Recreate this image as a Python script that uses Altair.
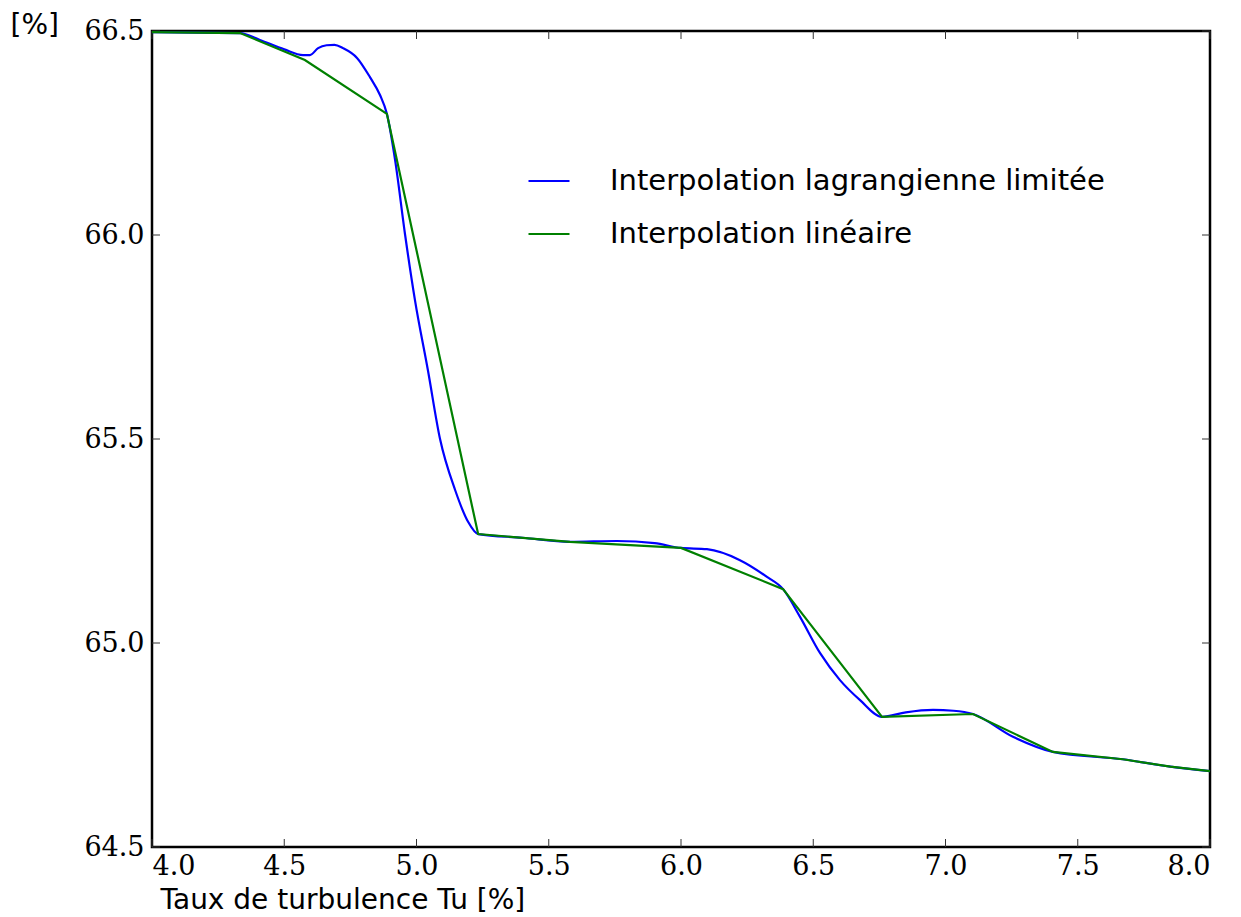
import altair as alt
import pandas as pd

# Series values
x_lag = [4.0, 4.333, 4.408, 4.5, 4.571, 4.597, 4.628, 4.66, 4.69, 4.722, 4.775, 4.824,
         4.862, 4.888, 4.919, 4.957, 4.994, 5.043, 5.089, 5.146, 5.195, 5.233, 5.4,
         5.58, 5.758, 5.9, 6.0, 6.098, 6.223, 6.325, 6.386, 6.45, 6.526, 6.601, 6.677,
         6.76, 6.85, 6.953, 7.03, 7.104, 7.255, 7.406, 7.67, 7.85, 8.0]
y_lag = [66.497, 66.495, 66.478, 66.455, 66.441, 66.441, 66.458, 66.465, 66.466, 66.458,
         66.434, 66.387, 66.343, 66.297, 66.184, 66.0, 65.841, 65.669, 65.5, 65.375,
         65.297, 65.267, 65.258, 65.248, 65.25, 65.245, 65.233, 65.230, 65.203, 65.162,
         65.132, 65.064, 64.975, 64.909, 64.86, 64.819, 64.83, 64.836, 64.834, 64.826,
         64.77, 64.733, 64.715, 64.697, 64.686]

x_lin = [4.0, 4.333, 4.578, 4.888, 5.233, 5.58, 6.0, 6.386, 6.76, 7.104, 7.406, 7.67, 7.85, 8.0]
y_lin = [66.497, 66.495, 66.429, 66.297, 65.267, 65.248, 65.233, 65.132, 64.819, 64.826,
         64.733, 64.715, 64.697, 64.686]

series_names = ["Interpolation lagrangienne limitée", "Interpolation linéaire"]
series_colors = ["#0000ff", "#008000"]

x_ticks = [4.0, 4.5, 5.0, 5.5, 6.0, 6.5, 7.0, 7.5, 8.0]
y_ticks = [64.5, 65.0, 65.5, 66.0, 66.5]

x_title = "Taux de turbulence Tu [%]"
y_title = "[%]"

W, H = 1058, 816

df_lag = pd.DataFrame({"x": x_lag, "y": y_lag, "s": series_names[0]})
df_lin = pd.DataFrame({"x": x_lin, "y": y_lin, "s": series_names[1]})
xt = pd.DataFrame({"v": x_ticks})
yt = pd.DataFrame({"v": y_ticks})

xscale = alt.Scale(domain=[4.0, 8.0], nice=False, zero=False)
yscale = alt.Scale(domain=[64.5, 66.5], nice=False, zero=False)

x_enc = alt.X("x:Q", scale=xscale,
              axis=alt.Axis(values=x_ticks, format=".1f", title=x_title,
                            titleX=8, titleY=53, titleAlign="left", titleBaseline="middle",
                            titleAnchor="start"))
y_enc = alt.Y("y:Q", scale=yscale,
              axis=alt.Axis(values=y_ticks, format=".1f", title=y_title, titleAngle=0,
                            titleX=-142, titleY=2, titleAlign="left",
                            titleBaseline="alphabetic", titleAnchor="start"))
c_enc = alt.Color("s:N", scale=alt.Scale(domain=series_names, range=series_colors),
                  legend=alt.Legend(title=None, orient="none", legendX=375, legendY=128,
                                    symbolType="stroke", symbolSize=1681,
                                    symbolStrokeWidth=2.2, labelOffset=39,
                                    labelFont="DejaVu Sans", labelFontSize=29,
                                    labelColor="black", rowPadding=16, padding=0,
                                    labelLimit=1000))

blue = alt.Chart(df_lag).mark_line(strokeWidth=2.2, interpolate="monotone").encode(
    x=x_enc, y=y_enc, color=c_enc)
green = alt.Chart(df_lin).mark_line(strokeWidth=2.2).encode(
    x=x_enc, y=y_enc, color=c_enc)

tick_style = dict(color="#333333", strokeWidth=1)
tx_bot = alt.Chart(xt).mark_rule(**tick_style).encode(
    x=alt.X("v:Q", scale=xscale), y=alt.value(H), y2=alt.value(H - 8))
tx_top = alt.Chart(xt).mark_rule(**tick_style).encode(
    x=alt.X("v:Q", scale=xscale), y=alt.value(0), y2=alt.value(8))
ty_left = alt.Chart(yt).mark_rule(**tick_style).encode(
    y=alt.Y("v:Q", scale=yscale), x=alt.value(0), x2=alt.value(8))
ty_right = alt.Chart(yt).mark_rule(**tick_style).encode(
    y=alt.Y("v:Q", scale=yscale), x=alt.value(W), x2=alt.value(W - 8))

chart = alt.layer(tx_bot, tx_top, ty_left, ty_right, blue, green).properties(
    width=W, height=H,
    autosize=alt.AutoSizeParams(type="none"),
    padding={"left": 144, "top": 23, "right": 20, "bottom": 70},
).configure_view(
    stroke="black", strokeWidth=2.5
).configure_axis(
    domain=False, grid=False, ticks=False,
    labelFont="DejaVu Serif", labelFontSize=27, labelColor="black", labelPadding=8,
    titleFont="DejaVu Sans", titleFontSize=28, titleFontWeight="normal", titleColor="black",
).configure_axisX(labelBaseline="top", labelPadding=6)

chart.save("out.html", embed_options={"renderer": "svg", "actions": False})
